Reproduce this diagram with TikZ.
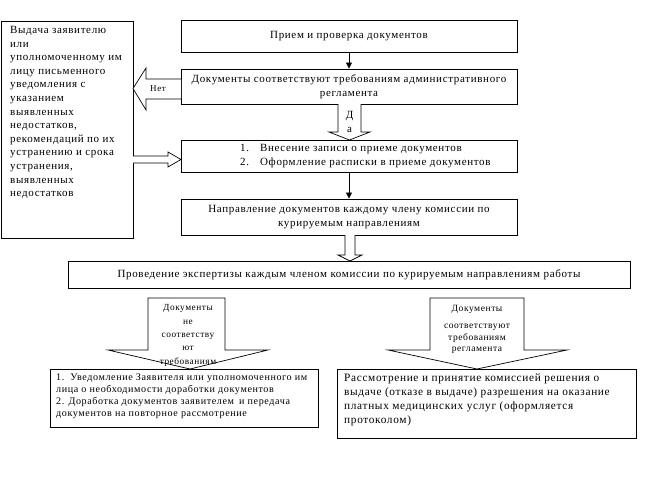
\documentclass[tikz,border=0pt]{standalone}
\usepackage{fontspec}
\setmainfont{Liberation Serif}[LetterSpace=6]
\usetikzlibrary{arrows.meta}
\begin{document}
\begin{tikzpicture}[x=1pt,y=-1pt,
  box/.style={draw,line width=0.9pt,inner sep=2pt,align=center,font=\fontsize{11}{13.8}\selectfont},
  txt/.style={inner sep=0pt,align=center,font=\fontsize{11}{13.8}\selectfont},
  conn/.style={line width=0.8pt,-{Triangle[width=6pt,length=6pt]}},
  blk/.style={draw,line width=0.7pt,fill=white}]
\useasboundingbox[fill=white] (0,0) rectangle (662,482);
% left box
\node[box,minimum width=132,minimum height=217] (left) at (67,129.5) {};
\node[txt,align=left,anchor=north west,font=\fontsize{11}{13.6}\selectfont] (lefttxt) at (10,26)
 {Выдача заявителю\\или\\уполномоченному им\\лицу письменного\\уведомления с\\указанием\\выявленных\\недостатков,\\рекомендаций по их\\устранению и срока\\устранения,\\выявленных\\недостатков};
% main boxes
\node[box,minimum width=336,minimum height=32] (b1) at (349,36) {Прием и проверка документов};
\node[box,minimum width=336,minimum height=35] (b2) at (349,86.5) {Документы соответствуют требованиям административного\\регламента};
\node[box,minimum width=336,minimum height=32] (b3) at (349,156) {};
\node[txt,align=left,anchor=west] (b3t) at (240,156) {1.\hspace{1em}Внесение записи о приеме документов\\2.\hspace{1em}Оформление расписки в приеме документов};
\node[box,minimum width=336,minimum height=36] (b4) at (349,217) {Направление документов каждому члену комиссии по\\курируемым направлениям};
\node[box,minimum width=562,minimum height=27] (b5) at (349,274.5) {Проведение экспертизы каждым членом комиссии по курируемым направлениям работы};
\node[box,minimum width=268,minimum height=58] (b6) at (184,398) {};
\node[txt,align=left,anchor=north west,font=\fontsize{10.1}{12}\selectfont] (b6t) at (56,374)
 {1.\hspace{0.6em}Уведомление Заявителя или уполномоченного им\\лица о необходимости доработки документов\\2. Доработка документов заявителем\enspace и передача\\документов на повторное рассмотрение};
\node[box,minimum width=299,minimum height=69] (b7) at (486.5,403.5) {};
\node[txt,align=left,anchor=north west,font=\fontsize{11.3}{14}\selectfont] (b7t) at (344,374)
 {Рассмотрение и принятие комиссией решения о\\выдаче (отказе в выдаче) разрешения на оказание\\платных медицинских услуг (оформляется\\протоколом)};
% thin connectors
\draw[conn] (b1.south) -- (b2.north);
\draw[conn] (b3.south) -- (b4.north);
% block arrow: Нет
\draw[blk] (181,79) -- (146,79) -- (146,68) -- (133,88.5) -- (146,110) -- (146,99) -- (181,99);
\node[txt,font=\fontsize{9}{11}\selectfont] (net) at (158,88.5) {Нет};
% block arrow: Да
\draw[blk] (338,104) -- (338,132) -- (329,132) -- (349.5,140) -- (370,132) -- (361,132) -- (361,104);
\node[txt] (da) at (349.5,116) {Д};
\node[txt] (da2) at (349.5,129.5) {а};
% block arrow right into b3
\draw[blk] (133,156) -- (168,156) -- (168,152) -- (181,159.5) -- (168,167) -- (168,163) -- (133,163);
% block arrow b4 -> b5
\draw[blk] (345,235) -- (345,255) -- (338,255) -- (350,261) -- (362,255) -- (355,255) -- (355,235);
% big arrow left
\draw[blk] (148,298) -- (225,298) -- (225,350) -- (268,350) -- (190,369) -- (108,350) -- (148,350) -- cycle;
\node[txt,font=\fontsize{9.3}{13.3}\selectfont] (la) at (188,335.5) {Документы\\не\\соответству\\ют\\требованиям};
% big arrow right
\draw[blk] (430,298) -- (524,298) -- (524,350) -- (567,350) -- (477,369) -- (388,350) -- (430,350) -- cycle;
\node[txt,font=\fontsize{9.5}{11.5}\selectfont] (ra) at (477,329.5) {Документы\\[6pt]соответствуют\\требованиям\\регламента};
\end{tikzpicture}
\end{document}
